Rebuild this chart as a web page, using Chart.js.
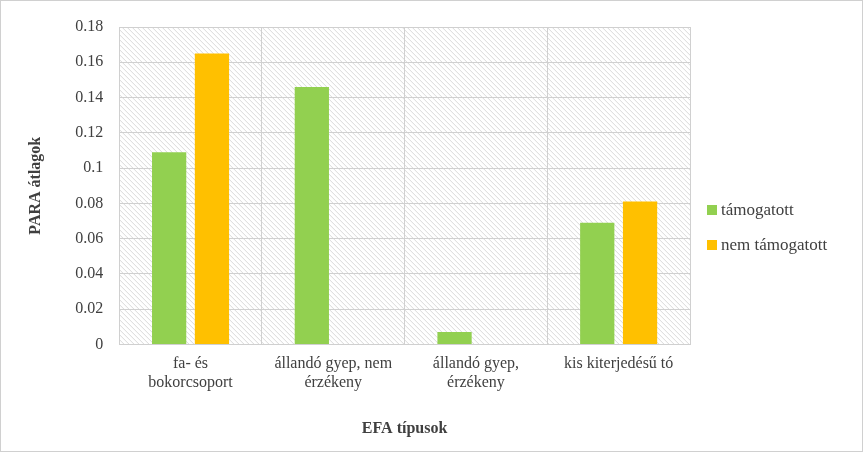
<!DOCTYPE html>
<html>
<head>
<meta charset="utf-8">
<script src="https://cdn.jsdelivr.net/npm/chart.js@4/dist/chart.umd.min.js"></script>
<style>
  body { margin: 0; background: #fff; }
  #wrap { position: relative; width: 861px; height: 450px; border: 1px solid #d0d0d0; }
  #legend { position: absolute; left: 706px; top: 199px; font-family: "Liberation Serif", serif; font-size: 17px; color: #404040; }
  #legend div { margin-bottom: 15px; display: flex; align-items: center; }
  #legend span { display: inline-block; width: 10px; height: 10px; margin-right: 4px; }
</style>
</head>
<body>
<div id="wrap">
  <canvas id="chart" width="861" height="450"></canvas>
  <div id="legend">
    <div><span style="background:#92d050"></span>támogatott</div>
    <div><span style="background:#ffc000"></span>nem támogatott</div>
  </div>
</div>
<script>
// chart data
const categories = [["fa- és", "bokorcsoport"], ["állandó gyep, nem", "érzékeny"], ["állandó gyep,", "érzékeny"], ["kis kiterjedésű tó"]];
const supported = [0.109, 0.146, 0.007, 0.069];
const notSupported = [0.165, 0, 0, 0.081];
const yTicks = [0, 0.02, 0.04, 0.06, 0.08, 0.1, 0.12, 0.14, 0.16, 0.18];

// diagonal hatch behind the plot area
const hatchPlugin = {
    id: 'hatch',
    beforeDraw(chart) {
        const { ctx, chartArea: a } = chart;
        ctx.save();
        ctx.beginPath();
        ctx.rect(a.left, a.top, a.right - a.left, a.bottom - a.top);
        ctx.clip();
        ctx.strokeStyle = "#d9d9d9";
        ctx.lineWidth = 1;
        const h = a.bottom - a.top;
        for (let x = a.left - h; x < a.right; x += 5) {
            ctx.beginPath();
            ctx.moveTo(x, a.top);
            ctx.lineTo(x + h, a.bottom);
            ctx.stroke();
        }
        ctx.restore();
    }
};

const font = { family: "Liberation Serif", size: 16 };

new Chart(document.getElementById("chart"), {
    type: 'bar',
    data: {
        labels: categories,
        datasets: [
            { label: "támogatott", data: supported, backgroundColor: "#92d050", categoryPercentage: 0.6, barPercentage: 0.8 },
            { label: "nem támogatott", data: notSupported, backgroundColor: "#ffc000", categoryPercentage: 0.6, barPercentage: 0.8 }
        ]
    },
    options: {
        responsive: false,
        animation: false,
        layout: { padding: { top: 26, right: 172, left: 21, bottom: 9 } },
        plugins: { legend: { display: false }, tooltip: { enabled: false } },
        scales: {
            x: {
                grid: { color: "#d0d0d0", offset: true, drawTicks: false },
                border: { color: "#d0d0d0" },
                ticks: { font: font, color: "#404040", padding: 10 },
                title: { display: true, text: "EFA típusok", font: { family: "Liberation Serif", size: 16, weight: "bold" }, color: "#404040", padding: { top: 16 } }
            },
            y: {
                min: 0, max: 0.18,
                afterBuildTicks(axis) { axis.ticks = yTicks.map(v => ({ value: v })); },
                grid: { color: "#d0d0d0", drawTicks: false },
                border: { color: "#d0d0d0" },
                ticks: { font: font, color: "#404040", padding: 16, callback: v => String(Math.round(v * 100) / 100) },
                title: { display: true, text: "PARA átlagok", font: { family: "Liberation Serif", size: 16, weight: "bold" }, color: "#404040", padding: { bottom: 14 } }
            }
        }
    },
    plugins: [hatchPlugin]
});
</script>
</body>
</html>
